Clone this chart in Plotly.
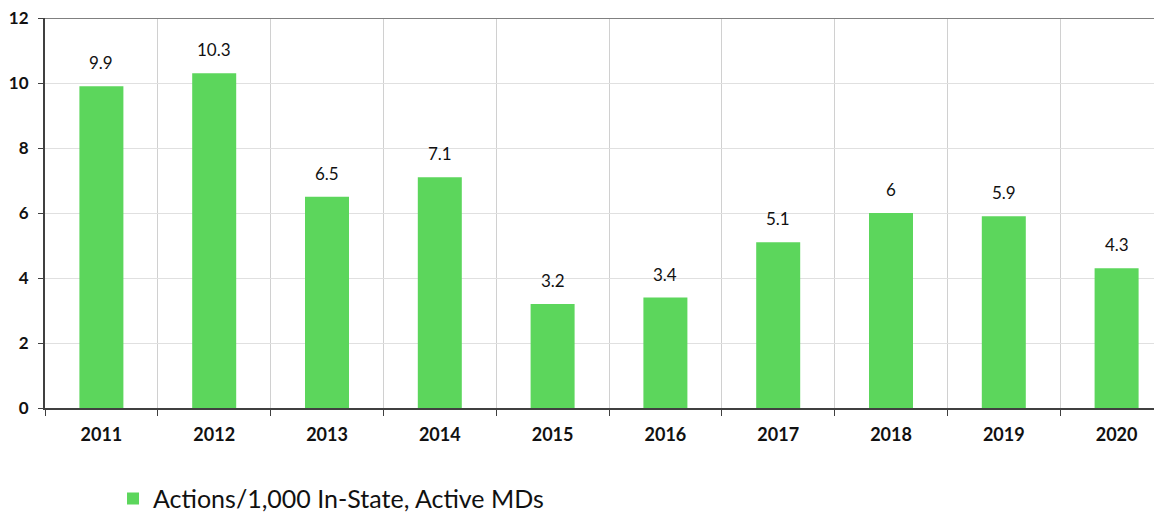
import plotly.graph_objects as go

years = ["2011", "2012", "2013", "2014", "2015", "2016", "2017", "2018", "2019", "2020"]
values = [9.9, 10.3, 6.5, 7.1, 3.2, 3.4, 5.1, 6, 5.9, 4.3]
series_name = "Actions/1,000 In-State, Active MDs"
y_ticks = [0, 2, 4, 6, 8, 10, 12]

green = "#5cd65c"
font_family = "Lato, 'Open Sans', sans-serif"

fig = go.Figure()
fig.add_trace(go.Bar(
    x=years, y=values, name=series_name,
    marker=dict(color=green, line=dict(width=0)),
    width=0.39,
))

for i, v in enumerate(values):
    fig.add_annotation(
        x=i, y=v, text=f"{v:g}", showarrow=False,
        yanchor="bottom", yshift=11,
        font=dict(family=font_family, size=17, color="#111111"),
    )

fig.add_shape(type="line", xref="paper", yref="y", x0=0, x1=1, y0=12, y1=12,
              line=dict(color="#808080", width=2))

fig.update_layout(
    width=1165, height=514,
    margin=dict(l=37, r=0, t=10, b=114),
    paper_bgcolor="white", plot_bgcolor="white",
    font=dict(family=font_family),
    showlegend=True,
    legend=dict(
        orientation="h", x=0.0603, xanchor="left",
        yref="container", y=0.045, yanchor="middle",
        font=dict(family=font_family, size=25, color="#111111"),
        itemwidth=30,
    ),
    xaxis=dict(
        type="category", tickson="boundaries",
        categoryorder="array", categoryarray=years,
        range=[-0.5, 9.5], automargin=False,
        showgrid=True, gridcolor="#d0d0d0", gridwidth=1,
        showline=True, linecolor="#404040", linewidth=2,
        ticks="outside", ticklen=6, tickcolor="#404040",
        tickfont=dict(family=font_family, size=18, color="#111111", weight="bold"),
        ticklabelstandoff=9,
    ),
    yaxis=dict(
        range=[0, 12], tickvals=y_ticks, automargin=False,
        showgrid=True, gridcolor="#e0e0e0", gridwidth=1,
        showline=True, linecolor="#404040", linewidth=2,
        ticks="outside", ticklen=5, tickcolor="#404040",
        tickfont=dict(family=font_family, size=17, color="#111111", weight="bold"),
        ticklabelstandoff=6, ticklabeloverflow="allow",
        zeroline=False,
    ),
)

fig.write_html("out.html")
